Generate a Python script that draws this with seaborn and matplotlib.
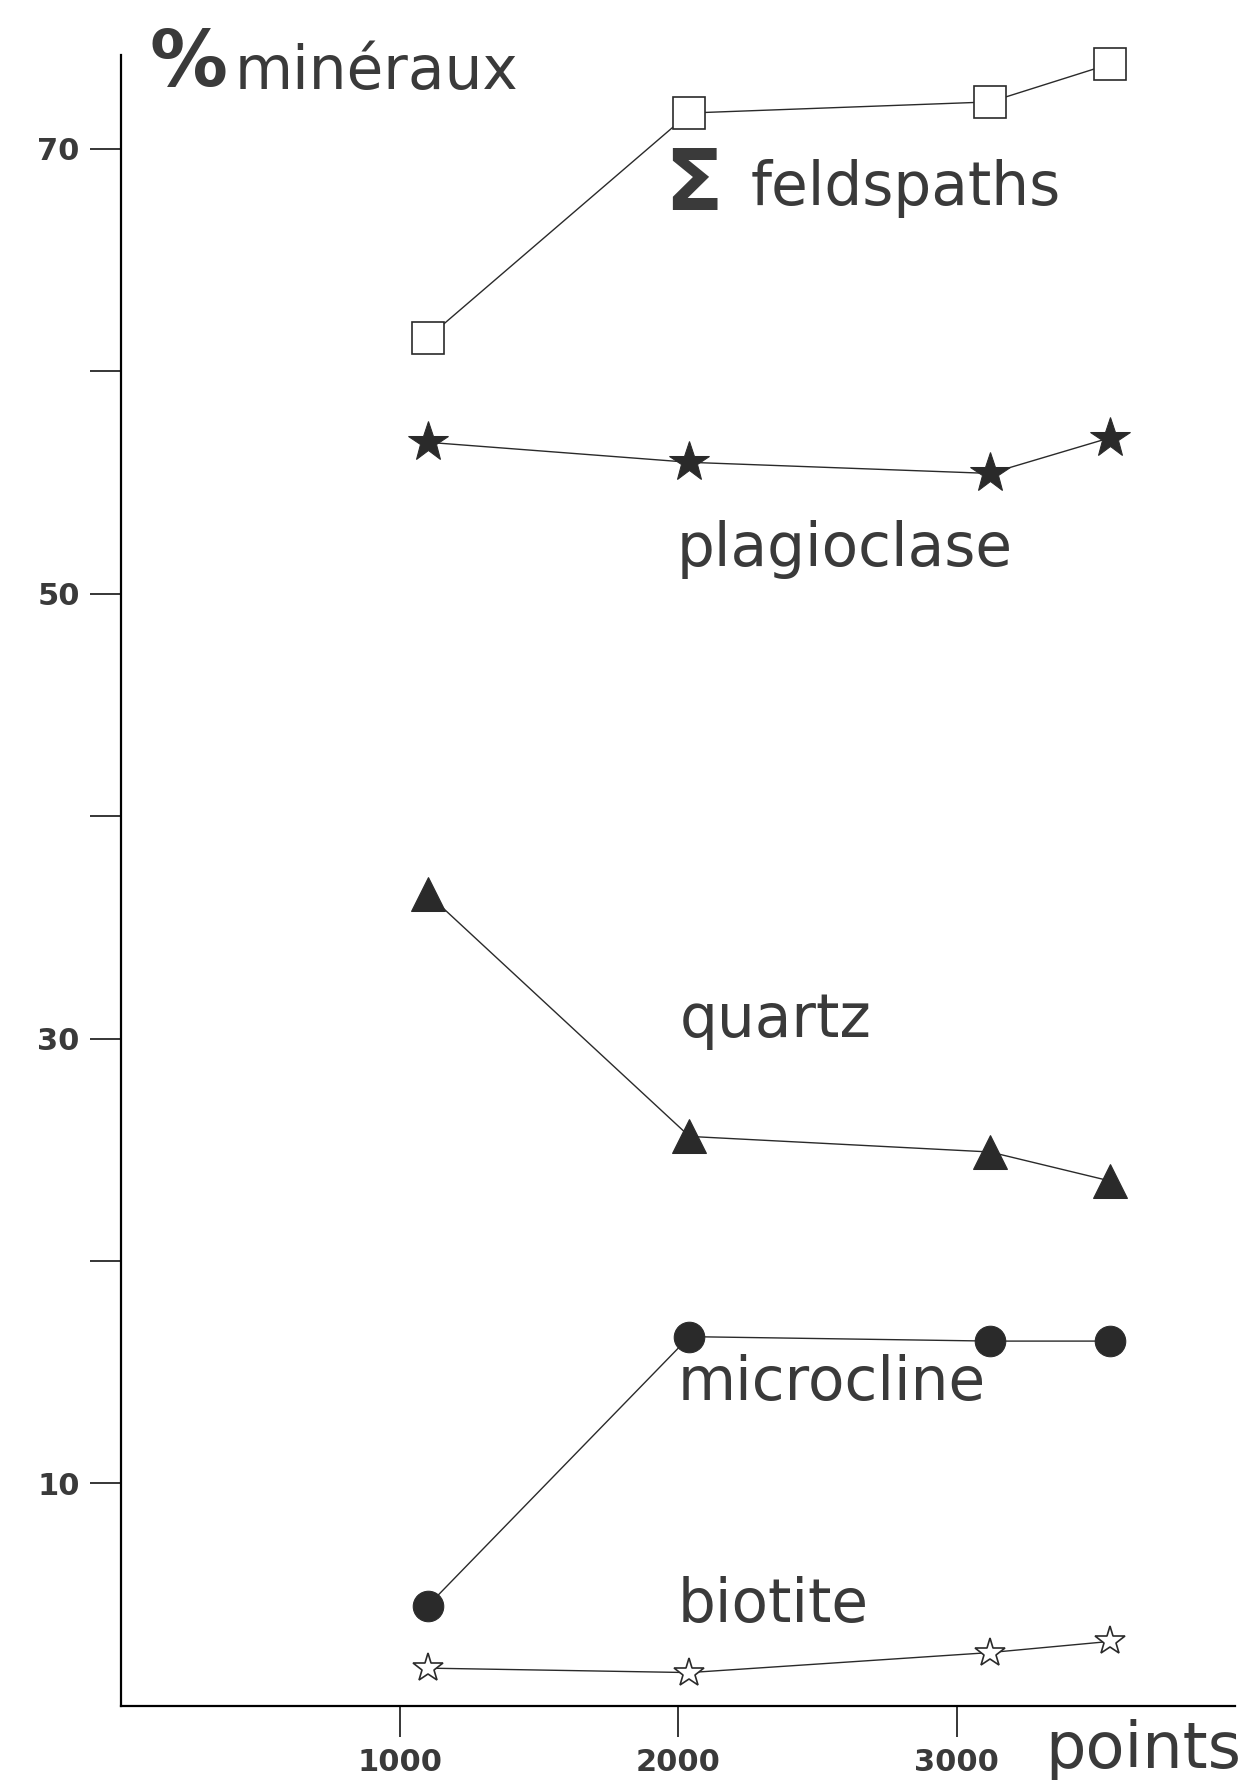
import numpy as np
import pandas as pd
import matplotlib
matplotlib.use("Agg")
import matplotlib.pyplot as plt
import seaborn as sns

# nombre de points comptés
points = [1100, 2040, 3120, 3550]

# % minéraux par série
feldspaths = [61.5, 71.6, 72.1, 73.8]
plagioclase = [56.8, 55.9, 55.4, 57.0]
quartz = [36.5, 25.6, 24.9, 23.6]
microcline = [4.5, 16.6, 16.4, 16.4]
biotite = [1.7, 1.5, 2.4, 2.9]

yticks = [10, 20, 30, 40, 50, 60, 70]
ytick_labels = ["10", "", "30", "", "50", "", "70"]
xticks = [1000, 2000, 3000]
xtick_labels = ["1000", "2000", "3000"]

sns.set_style("ticks")
plt.rcParams['font.family'] = ['DejaVu Sans']

fig = plt.figure(figsize=(12.59, 17.80), dpi=100)
ax = fig.add_axes([0.0965, 0.0416, 0.8845, 0.9274])

ink = "#2a2a2a"
txt = "#3a3a3a"

sns.lineplot(x=points, y=feldspaths, ax=ax, color=ink, lw=1, clip_on=False,
             marker="s", markersize=23, markerfacecolor="white",
             markeredgecolor=ink, markeredgewidth=1.2)
sns.lineplot(x=points, y=plagioclase, ax=ax, color=ink, lw=1,
             marker="*", markersize=30, markerfacecolor=ink,
             markeredgecolor=ink)
sns.lineplot(x=points, y=quartz, ax=ax, color=ink, lw=1,
             marker="^", markersize=24, markerfacecolor=ink,
             markeredgecolor=ink)
sns.lineplot(x=points, y=microcline, ax=ax, color=ink, lw=1,
             marker="o", markersize=22, markerfacecolor=ink,
             markeredgecolor=ink)
sns.lineplot(x=points, y=biotite, ax=ax, color=ink, lw=1, clip_on=False,
             marker="*", markersize=22, markerfacecolor="white",
             markeredgecolor=ink, markeredgewidth=1.2)

ax.set_xlim(0, 4000)
ax.set_ylim(0, 74.2)
sns.despine(ax=ax)
for s in ["left", "bottom"]:
    ax.spines[s].set_linewidth(1.6)
    ax.spines[s].set_color("black")

ax.set_yticks(yticks)
ax.set_yticklabels(ytick_labels, fontsize=22, fontweight="bold", color=txt)
ax.set_xticks(xticks)
ax.set_xticklabels(xtick_labels, fontsize=22, fontweight="bold", color=txt)
ax.tick_params(axis="both", direction="out", length=22, width=1.3, pad=8)
ax.set_xlabel("")
ax.set_ylabel("")

# libellés des séries
lab = dict(fontsize=43, color=txt, va="center", ha="left")
ax.text(1950, 68.3, "Σ", fontsize=62, fontweight="bold", color=txt,
        va="center", ha="left")
ax.text(2260, 68.2, "feldspaths", **lab)
ax.text(1994, 52.0, "plagioclase", **lab)
ax.text(2006, 30.8, "quartz", **lab)
ax.text(1998, 14.5, "microcline", **lab)
ax.text(1998, 4.5, "biotite", **lab)

# titre de l'axe y
ax.text(100, 73.8, "%", fontsize=56, fontweight="bold", color=txt,
        va="center", ha="left", clip_on=False)
ax.text(405, 73.4, "minéraux", fontsize=43, color=txt, va="center",
        ha="left", clip_on=False)

# titre de l'axe x
ax.text(3318, -2.0, "points", fontsize=46, color=txt, va="center",
        ha="left", clip_on=False)

fig.savefig("out.png", dpi=100)
